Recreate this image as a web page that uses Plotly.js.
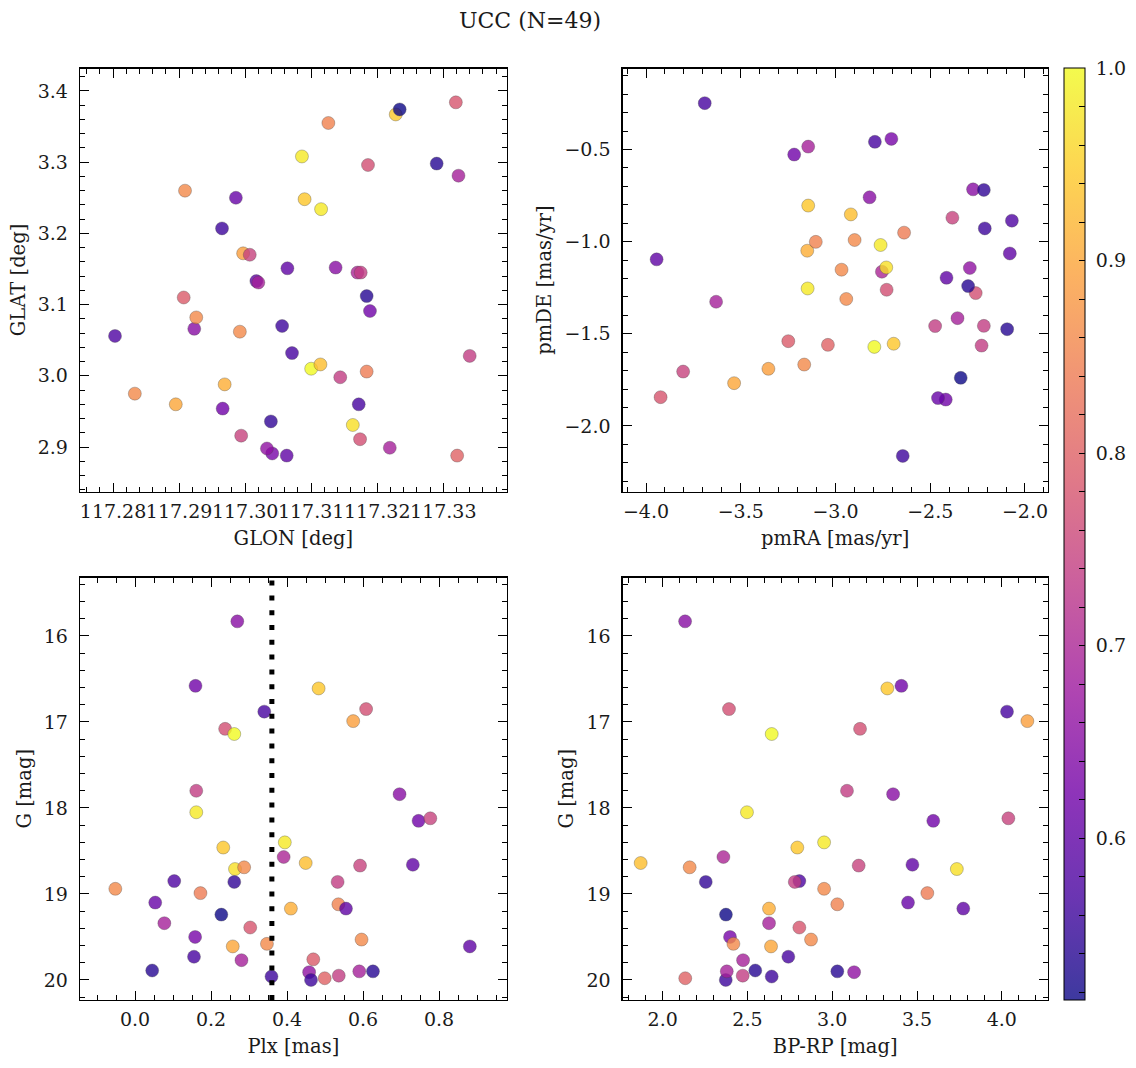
<!DOCTYPE html>
<html>
<head>
<meta charset="utf-8">
<script src="https://cdn.plot.ly/plotly-3.0.1.min.js"></script>
<style>html,body{margin:0;padding:0;background:#fff;}#chart{width:1136px;height:1068px;}</style>
</head>
<body>
<div id="chart"></div>
<script>
// ---- data: one entry per member star (N=49) ----
const G_mag = [15.83,16.58,16.61,16.85,16.88,16.99,17.08,17.14,17.80,17.84,
  18.05,18.15,18.12,18.40,18.46,18.57,18.64,18.67,18.66,18.71,
  18.69,18.85,18.86,18.86,18.94,18.99,19.10,19.17,19.12,19.17,
  19.24,19.34,19.39,19.50,19.58,19.61,19.53,19.61,19.73,19.77,
  19.76,19.89,19.96,19.91,20.00,19.98,19.95,19.90,19.90];
const plx = [0.269,0.159,0.483,0.608,0.340,0.574,0.237,0.261,0.161,0.696,
  0.161,0.746,0.777,0.394,0.232,0.391,0.449,0.592,0.731,0.263,
  0.287,0.103,0.261,0.533,-0.052,0.172,0.053,0.410,0.535,0.555,
  0.227,0.077,0.303,0.158,0.347,0.257,0.596,0.881,0.155,0.280,
  0.469,0.045,0.359,0.458,0.463,0.499,0.536,0.590,0.626];
const bp_rp = [2.132,3.408,3.325,2.391,4.031,4.151,3.164,2.643,3.087,3.359,
  2.497,3.596,4.039,2.952,2.794,2.358,1.870,3.156,3.473,3.735,
  2.159,2.806,2.254,2.779,2.952,3.561,3.447,2.627,3.030,3.773,
  2.373,2.627,2.806,2.397,2.417,2.639,2.875,null,2.741,2.474,
  null,2.546,2.643,3.129,2.372,2.133,2.472,2.378,3.030];
const prob = [0.65,0.62,0.94,0.77,0.57,0.89,0.77,1.00,0.74,0.65,
  0.98,0.62,0.75,0.98,0.94,0.70,0.93,0.75,0.60,0.97,
  0.86,0.58,0.55,0.74,0.86,0.84,0.61,0.91,0.85,0.60,
  0.516,0.69,0.78,0.63,0.86,0.90,0.86,0.60,0.57,0.69,
  0.79,0.54,0.56,0.66,0.56,0.80,0.74,0.69,0.54];
const glon = [117.2923,117.2966,117.3228,117.3186,117.3071,117.2997,117.3174,117.3100,117.3340,117.3137,
  117.3086,117.3189,117.2994,117.3115,117.3090,117.3170,117.3114,117.3007,117.3064,117.3163,
  117.2926,117.2803,117.3039,117.3175,117.2909,117.3184,117.2986,117.2969,117.3126,117.3017,
  117.3234,117.3020,117.3319,117.3041,117.2992,117.2895,117.2833,117.3063,117.3172,117.3219,
  117.2907,117.3290,117.2965,117.3033,117.3056,117.3321,117.3144,117.3323,117.3184];
const glat = [3.066,2.954,3.367,3.296,3.032,3.172,2.911,3.010,3.028,3.152,
  3.308,3.091,2.916,3.234,3.248,3.145,3.016,3.170,3.151,2.931,
  3.082,3.056,2.936,3.145,3.260,3.006,3.250,2.988,3.355,3.133,
  3.374,3.131,3.384,2.891,3.062,2.960,2.975,2.888,2.960,2.899,
  3.110,3.298,3.207,2.898,3.070,2.888,2.998,3.281,3.112];
const pmra = [-2.820,-2.418,-3.144,-2.730,-3.690,-3.354,-2.260,-2.795,-2.229,-2.274,
  -2.762,-3.218,-3.804,-3.147,-2.693,-2.755,-2.919,-2.383,-3.944,-2.732,
  -2.968,-2.069,-2.217,-2.474,-3.165,-2.638,-2.459,-3.149,-3.104,-2.080,
  -2.339,-3.630,-3.923,-2.705,-2.899,-3.535,-2.943,-2.414,-2.792,-2.356,
  -3.249,-2.300,-2.212,-2.291,-2.645,-3.040,-2.217,-3.144,-2.094];
const pmde = [-0.759,-1.857,-0.804,-1.261,-0.248,-1.690,-1.279,-1.571,-1.564,-0.716,
  -1.018,-0.527,-1.705,-1.254,-1.554,-1.163,-0.852,-0.870,-1.096,-1.140,
  -1.152,-0.886,-0.719,-1.458,-1.667,-0.951,-1.849,-1.049,-1.001,-1.064,
  -1.739,-1.326,-1.844,-0.442,-0.991,-1.768,-1.311,-1.196,-0.458,-1.415,
  -1.540,-1.241,-0.928,-1.143,-2.163,-1.560,-1.457,-0.484,-1.475];
const plx_line = 0.36;
const titleText = 'UCC (N=49)';
const cbTickVals = [0.6,0.7,0.8,0.9,1.0];

// ---- styling ----
const FONT = 'DejaVu Serif';
const TXT = '#1a1a1a';
const plasma = ['#0d0887','#46039f','#7201a8','#9c179e','#bd3786','#d8576b','#ed7953','#fb9f3a','#fdca26','#f0f921'];
function rgba(hex, a){const n=parseInt(hex.slice(1),16);return `rgba(${n>>16},${(n>>8)&255},${n&255},${a})`;}
const cscale = plasma.map((c,i)=>[i/(plasma.length-1), rgba(c,0.8)]);

const W=1136,H=1068;
const xdomL=[80/W,506.7/W], xdomR=[622.7/W,1047.7/W];
const ydomT=[1-491.5/H,1-68.5/H], ydomB=[1-1000/H,1-577.5/H];

function ax(domain, anchor, range, dtick, minor, title, fmt, isY){
  return {
    domain, anchor, range, autorange:false, tick0:0, dtick, tickformat:fmt,
    ticks:'inside', ticklen:9, tickwidth:1, tickcolor:'#000',
    minor:{ticks:'inside', ticklen:5, tickwidth:1, tickcolor:'#000', dtick:minor, tick0:0, showgrid:false},
    showline:true, linecolor:'#000', linewidth:1.3, mirror:'allticks',
    showgrid:false, zeroline:false, tickangle:0,
    ticklabelstandoff: isY ? 7 : 2,
    tickfont:{family:FONT, size:19, color:TXT},
    title:{text:title, font:{family:FONT, size:19.5, color:TXT}, standoff: isY ? 7 : 10}
  };
}

function mk(x,y,xa,ya){
  return {type:'scatter', mode:'markers', x, y, xaxis:xa, yaxis:ya, showlegend:false,
    hoverinfo:'x+y',
    marker:{size:13, color:prob, coloraxis:'coloraxis', line:{color:'rgba(70,70,70,0.55)', width:0.6}}};
}

const traces=[
  mk(glon, glat, 'x', 'y'),
  mk(pmra, pmde, 'x2', 'y2'),
  mk(plx, G_mag, 'x3', 'y3'),
  mk(bp_rp, G_mag, 'x4', 'y4')
];

const cbVals=[]; for(let v=52; v<=100; v+=2){cbVals.push(v/100);}
const cbText=cbVals.map(v=>cbTickVals.some(t=>Math.abs(t-v)<1e-9)?'\u00a0'+v.toFixed(1):'');

const layout={
  width:W, height:H, paper_bgcolor:'#fff', plot_bgcolor:'#fff',
  margin:{l:0,r:0,t:0,b:0},
  title:{text:titleText, x:530/W, xanchor:'center', xref:'paper', y:1-20/H, yanchor:'middle', font:{family:FONT,size:22,color:TXT}},
  xaxis: ax(xdomL,'y',[117.2750,117.3396],0.01,0.002,'GLON [deg]','.2f',false),
  yaxis: ax(ydomT,'x',[2.8376,3.4315],0.1,0.02,'GLAT [deg]','.1f',true),
  xaxis2: ax(xdomR,'y2',[-4.123,-1.880],0.5,0.1,'pmRA [mas/yr]','.1f',false),
  yaxis2: ax(ydomT,'x2',[-2.356,-0.060],0.5,0.1,'pmDE [mas/yr]','.1f',true),
  xaxis3: ax(xdomL,'y3',[-0.145,0.978],0.2,0.05,'Plx [mas]','.1f',false),
  yaxis3: ax(ydomB,'x3',[20.233,15.32],1,0.2,'G [mag]','d',true),
  xaxis4: ax(xdomR,'y4',[1.764,4.271],0.5,0.1,'BP-RP [mag]','.1f',false),
  yaxis4: ax(ydomB,'x4',[20.233,15.32],1,0.2,'G [mag]','d',true),
  coloraxis:{
    colorscale:cscale, cmin:Math.min(...prob), cmax:Math.max(...prob),
    colorbar:{x:1064/W, xanchor:'left', xref:'paper', y:1-68/H, yanchor:'top', yref:'paper',
      len:932, lenmode:'pixels', thickness:21, thicknessmode:'pixels',
      xpad:0, ypad:0, outlinewidth:1, outlinecolor:'#000',
      ticks:'inside', ticklen:6, tickcolor:'#000', tickwidth:1,
      tickmode:'array', tickvals:cbVals, ticktext:cbText,
      tickfont:{family:FONT,size:19,color:TXT}}
  },
  shapes:[{type:'line', xref:'x3', yref:'y3 domain', x0:plx_line, x1:plx_line, y0:0, y1:1,
    line:{color:'#000', width:5, dash:'5px,9.8px'}, layer:'above'}]
};

Plotly.newPlot('chart', traces, layout, {displayModeBar:false, staticPlot:true});
</script>
</body>
</html>
